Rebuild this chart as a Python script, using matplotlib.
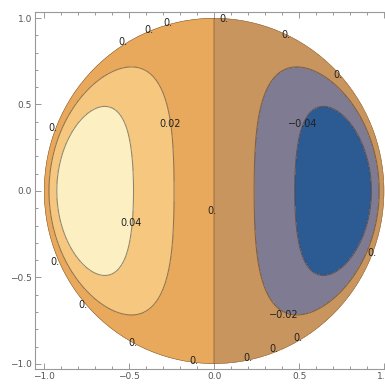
import numpy as np
import matplotlib.pyplot as plt
from matplotlib.patches import Circle
from matplotlib.ticker import MultipleLocator

# contour levels and band colours (low -> high)
levels = [-0.04, -0.02, 0.0, 0.02, 0.04]
band_colors = ['#2c5a92', '#7e7b93', '#c9955f', '#e9a95d', '#f6c77f', '#fcefc1']

# label positions (x, y) for each level
label_spots = {
    0.02: [(-0.26, 0.39)],
    0.04: [(-0.49, -0.185)],
    -0.04: [(0.52, 0.39)],
    -0.02: [(0.41, -0.72)],
    0.0: [(-0.535, 0.861), (-0.382, 0.931), (-0.27, 0.971), (0.06, 0.994),
          (0.42, 0.90), (0.73, 0.67), (-0.95, 0.364), (-0.935, -0.41),
          (-0.77, -0.66), (-0.48, -0.88), (-0.12, -0.983), (0.2, -0.965),
          (0.35, -0.913), (0.49, -0.85), (0.93, -0.358), (-0.01, -0.116)],
}

# field on the unit disk: linear core with a boundary layer that is
# thinnest where the wall faces the x direction
c, d0, k = 0.085, 0.108, 0.3
g = np.linspace(-1.06, 1.06, 700)
X, Y = np.meshgrid(g, g)
R = np.hypot(X, Y)
cos_t = (np.abs(X) / np.maximum(R, 1e-9)) ** 0.7
Z = -c * X * (1 - k * Y**2) * (1 - np.exp(-(1 - R) * (cos_t + 0.02) / d0))


def fmt(v):
    if v == 0:
        return '0.'
    return f'{v:.2f}'.replace('-', '\u2212')


fig = plt.figure(figsize=(3.85, 3.85), dpi=100)
ax = fig.add_axes([35 / 385, 16 / 385, 356 / 385, 357 / 385])

disk = Circle((0, 0), 1.0, transform=ax.transData, facecolor='none', edgecolor='none')
ax.add_patch(disk)

cf = ax.contourf(X, Y, Z, levels=[-1] + levels + [1], colors=band_colors)
cf.set_clip_path(disk)
cl = ax.contour(X, Y, Z, levels=levels, colors='#4a3c30', linewidths=0.75,
                alpha=0.6, negative_linestyles='solid')
cl.set_clip_path(disk)

for lv, spots in label_spots.items():
    for x, y in spots:
        ax.text(x, y, fmt(lv), fontsize=7, color='#222222', ha='center', va='center')

ax.set_xlim(-1.053, 1.04)
ax.set_ylim(-1.03, 1.035)
ax.xaxis.set_major_locator(MultipleLocator(0.5))
ax.yaxis.set_major_locator(MultipleLocator(0.5))
ax.xaxis.set_minor_locator(MultipleLocator(0.1))
ax.yaxis.set_minor_locator(MultipleLocator(0.1))
ax.xaxis.set_major_formatter(lambda v, p: f'{v:.1f}'.replace('-', '\u2212'))
ax.yaxis.set_major_formatter(lambda v, p: f'{v:.1f}'.replace('-', '\u2212'))
ax.tick_params(which='both', direction='in', top=True, right=True,
               colors='#888888', labelcolor='#555555', labelsize=6.5, width=0.6)
ax.tick_params(which='major', length=4, pad=2)
ax.tick_params(which='minor', length=2)
for s in ax.spines.values():
    s.set_color('#999999')
    s.set_linewidth(0.8)

fig.savefig('out.png', dpi=100)
